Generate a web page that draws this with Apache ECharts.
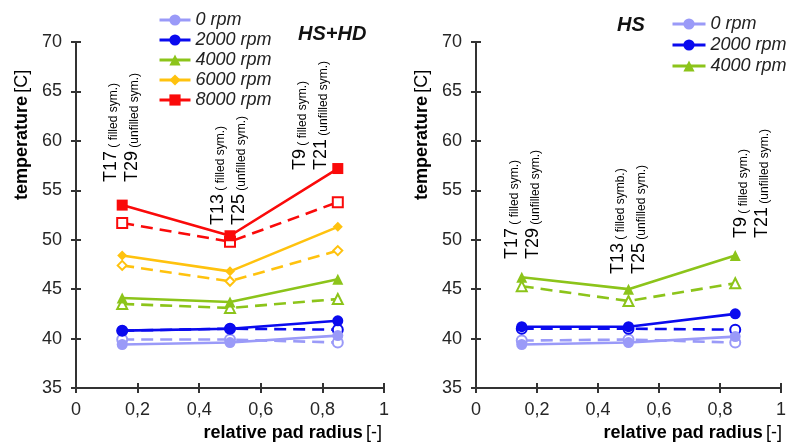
<!DOCTYPE html>
<html>
<head>
<meta charset="utf-8">
<script src="https://cdn.jsdelivr.net/npm/echarts@6/dist/echarts.min.js"></script>
<style>
  html, body { margin: 0; padding: 0; background: #fff; }
  #chart { width: 789px; height: 448px; }
</style>
</head>
<body>
<div id="chart"></div>
<script>
// Sensor positions along the pad (relative radius)
const radius = [0.15, 0.5, 0.85];

// HS+HD configuration: filled = T17/T13/T9, unfilled = T29/T25/T21
const hshd_0_filled    = [39.4, 39.6, 40.3];
const hshd_0_unfilled  = [39.9, 39.9, 39.6];
const hshd_2000_filled   = [40.8, 41.0, 41.8];
const hshd_2000_unfilled = [40.8, 41.0, 40.9];
const hshd_4000_filled   = [44.1, 43.7, 46.0];
const hshd_4000_unfilled = [43.5, 43.1, 44.0];
const hshd_6000_filled   = [48.4, 46.8, 51.3];
const hshd_6000_unfilled = [47.4, 45.8, 48.9];
const hshd_8000_filled   = [53.5, 50.4, 57.2];
const hshd_8000_unfilled = [51.7, 49.8, 53.8];

// HS configuration
const hs_0_filled      = [39.4, 39.6, 40.2];
const hs_0_unfilled    = [39.8, 39.9, 39.6];
const hs_2000_filled   = [41.2, 41.2, 42.5];
const hs_2000_unfilled = [41.0, 41.0, 40.9];
const hs_4000_filled   = [46.2, 45.0, 48.4];
const hs_4000_unfilled = [45.3, 43.8, 45.6];

const speedNames = ['0 rpm', '2000 rpm', '4000 rpm', '6000 rpm', '8000 rpm'];
const xTicks = [0, 0.2, 0.4, 0.6, 0.8, 1];
const yTicks = [35, 40, 45, 50, 55, 60, 65, 70];

const colors = {
  '0 rpm': '#9a9af8',
  '2000 rpm': '#0a0aee',
  '4000 rpm': '#8cc41a',
  '6000 rpm': '#ffc20e',
  '8000 rpm': '#fa0a0a'
};
const symbols = {
  '0 rpm': 'circle',
  '2000 rpm': 'circle',
  '4000 rpm': 'triangle',
  '6000 rpm': 'diamond',
  '8000 rpm': 'rect'
};
const symbolSizes = {
  '0 rpm': 11, '2000 rpm': 11, '4000 rpm': 11, '6000 rpm': 10, '8000 rpm': 11
};

const FONT = '"Liberation Sans", Arial, sans-serif';

function pairs(vals) {
  return radius.map((r, i) => [r, vals[i]]);
}

function filledSeries(name, vals, gi) {
  return {
    type: 'line', name: name,
    xAxisIndex: gi * 2, yAxisIndex: gi * 2,
    data: pairs(vals),
    symbol: symbols[name], symbolSize: symbolSizes[name],
    lineStyle: { color: colors[name], width: 2.6 },
    itemStyle: { color: colors[name] },
    emphasis: { disabled: true },
    animation: false, z: 3
  };
}

function unfilledSeries(name, vals, gi) {
  return {
    type: 'line', name: name + ' ',
    xAxisIndex: gi * 2, yAxisIndex: gi * 2,
    data: pairs(vals),
    symbol: symbols[name], symbolSize: symbolSizes[name] - 1,
    lineStyle: { color: colors[name], width: 2.6, type: [12, 7] },
    itemStyle: { color: '#ffffff', borderColor: colors[name], borderWidth: 2 },
    emphasis: { disabled: true },
    animation: false, z: 2
  };
}

function fmtX(v) { return String(v).replace('.', ','); }

function makeAxes(gi) {
  const xMain = {
    type: 'value', gridIndex: gi, position: 'bottom', min: 0, max: 1, interval: 0.2,
    axisLine: { lineStyle: { color: '#333', width: 2 } },
    axisTick: { show: true, inside: false, length: 5, lineStyle: { color: '#333', width: 2 } },
    axisLabel: { color: '#262626', fontSize: 18, fontFamily: FONT, margin: 13,
      formatter: v => xTicks.includes(+v.toFixed(1)) ? fmtX(+v.toFixed(1)) : '' },
    splitLine: { show: false }
  };
  const xInner = {
    type: 'value', gridIndex: gi, position: 'bottom', min: 0, max: 1, interval: 0.2,
    axisLine: { show: false },
    axisTick: { show: true, inside: true, length: 5, lineStyle: { color: '#333', width: 2 } },
    axisLabel: { show: false }, splitLine: { show: false }
  };
  const yMain = {
    type: 'value', gridIndex: gi, position: 'left', min: 35, max: 70, interval: 5,
    axisLine: { show: true, lineStyle: { color: '#333', width: 2 } },
    axisTick: { show: true, inside: false, length: 5, lineStyle: { color: '#333', width: 2 } },
    axisLabel: { color: '#262626', fontSize: 18, fontFamily: FONT, margin: 14,
      formatter: v => yTicks.includes(v) ? String(v) : '' },
    splitLine: { show: false }
  };
  const yInner = {
    type: 'value', gridIndex: gi, position: 'left', min: 35, max: 70, interval: 5,
    axisLine: { show: false },
    axisTick: { show: true, inside: true, length: 5, lineStyle: { color: '#333', width: 2 } },
    axisLabel: { show: false }, splitLine: { show: false }
  };
  return { x: [xMain, xInner], y: [yMain, yInner] };
}

const a0 = makeAxes(0), a1 = makeAxes(1);

const series = [
  unfilledSeries('0 rpm', hshd_0_unfilled, 0),
  filledSeries('0 rpm', hshd_0_filled, 0),
  unfilledSeries('2000 rpm', hshd_2000_unfilled, 0),
  filledSeries('2000 rpm', hshd_2000_filled, 0),
  unfilledSeries('4000 rpm', hshd_4000_unfilled, 0),
  filledSeries('4000 rpm', hshd_4000_filled, 0),
  unfilledSeries('6000 rpm', hshd_6000_unfilled, 0),
  filledSeries('6000 rpm', hshd_6000_filled, 0),
  unfilledSeries('8000 rpm', hshd_8000_unfilled, 0),
  filledSeries('8000 rpm', hshd_8000_filled, 0),

  unfilledSeries('0 rpm', hs_0_unfilled, 1),
  filledSeries('0 rpm', hs_0_filled, 1),
  unfilledSeries('2000 rpm', hs_2000_unfilled, 1),
  filledSeries('2000 rpm', hs_2000_filled, 1),
  unfilledSeries('4000 rpm', hs_4000_unfilled, 1),
  filledSeries('4000 rpm', hs_4000_filled, 1)
];

const richAnno = {
  big: { fontSize: 18, fontFamily: FONT, color: '#222' },
  small: { fontSize: 12, fontFamily: FONT, color: '#222', verticalAlign: 'bottom' }
};

// Vertical sensor labels: [x, bottom y, sensor, note]
const annotations = [
  [111, 182, 'T17', '( filled sym.)'],
  [132, 182, 'T29', '(unfilled sym.)'],
  [218, 225, 'T13', '( filled sym.)'],
  [239, 225, 'T25', '(unfilled sym.)'],
  [300, 170, 'T9', '( filled sym.)'],
  [321, 170, 'T21', '(unfilled sym.)'],
  [512, 259, 'T17', '( filled sym.)'],
  [533, 259, 'T29', '(unfilled sym.)'],
  [618, 274, 'T13', '( filled symb.)'],
  [639, 274, 'T25', '(unfilled sym.)'],
  [741, 238, 'T9', '( filled sym.)'],
  [762, 238, 'T21', '(unfilled sym.)']
];

const graphics = annotations.map(a => ({
  type: 'text', x: a[0], y: a[1], rotation: Math.PI / 2,
  style: {
    text: '{big|' + a[2] + '} {small|' + a[3] + '}',
    rich: richAnno, align: 'left', verticalAlign: 'middle'
  },
  silent: true
}));

function axisTitles(xOff) {
  return [
    {
      type: 'text', x: 22 + xOff, y: 200, rotation: Math.PI / 2,
      style: {
        text: '{b|temperature} {n|[C]}',
        rich: {
          b: { fontSize: 18, fontWeight: 'bold', fontFamily: FONT, color: '#111' },
          n: { fontSize: 18, fontFamily: FONT, color: '#111' }
        },
        align: 'left', verticalAlign: 'middle'
      }, silent: true
    },
    {
      type: 'text', x: 382 + xOff, y: 433,
      style: {
        text: '{b|relative pad radius} {n|[-]}',
        rich: {
          b: { fontSize: 18, fontWeight: 'bold', fontFamily: FONT, color: '#111' },
          n: { fontSize: 18, fontFamily: FONT, color: '#111' }
        },
        align: 'right', verticalAlign: 'middle'
      }, silent: true
    }
  ];
}

graphics.push(...axisTitles(0), ...axisTitles(400));
graphics.push({
  type: 'text', x: 298, y: 34,
  style: { text: 'HS+HD', fontSize: 20, fontWeight: 'bold', fontStyle: 'italic',
    fontFamily: FONT, fill: '#111', align: 'left', verticalAlign: 'middle' }, silent: true
});
graphics.push({
  type: 'text', x: 617, y: 25,
  style: { text: 'HS', fontSize: 20, fontWeight: 'bold', fontStyle: 'italic',
    fontFamily: FONT, fill: '#111', align: 'left', verticalAlign: 'middle' }, silent: true
});

const legendText = { fontSize: 18, fontStyle: 'italic', fontFamily: FONT, color: '#222',
  lineHeight: 20, padding: [0, 0, 0, 0] };

const option = {
  backgroundColor: '#ffffff',
  animation: false,
  grid: [
    { left: 76, right: 405, top: 42, bottom: 60 },
    { left: 476, right: 5, top: 42, bottom: 60 }
  ],
  xAxis: [a0.x[0], a0.x[1], a1.x[0], a1.x[1]],
  yAxis: [a0.y[0], a0.y[1], a1.y[0], a1.y[1]],
  legend: [
    {
      data: speedNames, orient: 'vertical', left: 153, top: 5,
      itemWidth: 31, itemHeight: 14, itemGap: 0,
      lineStyle: { width: 3 },
      textStyle: legendText, selectedMode: false
    },
    {
      data: speedNames.slice(0, 3), orient: 'vertical', left: 666, top: 9,
      itemWidth: 33, itemHeight: 14, itemGap: 1,
      lineStyle: { width: 3 },
      textStyle: legendText, selectedMode: false
    }
  ],
  series: series,
  graphic: graphics
};

const chart = echarts.init(document.getElementById('chart'), null, { renderer: 'canvas' });
chart.setOption(option);
</script>
</body>
</html>
